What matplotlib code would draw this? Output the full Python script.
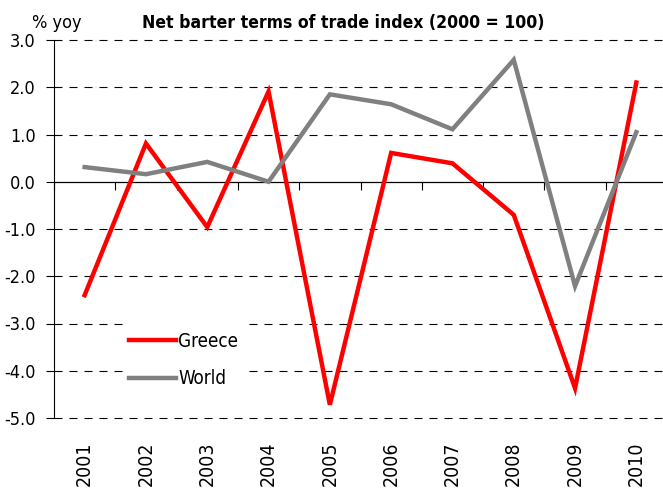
import matplotlib
matplotlib.use("Agg")
import matplotlib.pyplot as plt
from matplotlib import font_manager
from matplotlib.patches import Rectangle
import matplotlib.transforms as mtrans

years = ["2001", "2002", "2003", "2004", "2005", "2006", "2007", "2008", "2009", "2010"]
greece = [-2.40, 0.81, -0.96, 1.91, -4.72, 0.61, 0.39, -0.70, -4.37, 2.10]
world = [0.31, 0.16, 0.42, 0.0, 1.85, 1.64, 1.11, 2.58, -2.21, 1.05]
yticks = [-5.0, -4.0, -3.0, -2.0, -1.0, 0.0, 1.0, 2.0, 3.0]

# look for a condensed / narrow font
narrow = None
narrow_bold = None
for f in font_manager.fontManager.ttflist:
    nm = (f.name + " " + f.fname).lower()
    if ("narrow" in nm or "condensed" in nm) and "italic" not in nm and "oblique" not in nm:
        isbold = (f.weight in ("bold", 700)) or ("bold" in f.fname.lower())
        if isbold:
            narrow_bold = narrow_bold or f.fname
        else:
            narrow = narrow or f.fname

def fp(size, bold=False):
    if bold and narrow_bold:
        return font_manager.FontProperties(fname=narrow_bold, size=size)
    if not bold and narrow:
        return font_manager.FontProperties(fname=narrow, size=size)
    return font_manager.FontProperties(family="Liberation Sans", size=size,
                                       weight="bold" if bold else "normal")

k = 1.0 if narrow else 0.9
tsize = 13 * k
xsize = 14 * k
lsize = 13.5 * k
titsize = 12.6 if narrow_bold else 11.8

W, H = 663, 488
fig = plt.figure(figsize=(W / 100, H / 100), dpi=100)
left, right, top, bottom = 54, 667, 40, 418
ax = fig.add_axes([left / W, 1 - bottom / H, (right - left) / W, (bottom - top) / H])

def px2ax(px, py):
    return ((px - left) / (right - left), (bottom - py) / (bottom - top))

x = list(range(len(years)))
for yv in yticks:
    if yv != 0:
        ax.axhline(yv, color="black", lw=0.8, ls=(0, (7.2, 6.3)), zorder=1, clip_on=False)

# legend background
lx0, ly0 = px2ax(123, 397)
lx1, ly1 = px2ax(247, 319)
ax.add_patch(Rectangle((lx0, ly0), lx1 - lx0, ly1 - ly0, transform=ax.transAxes,
                       facecolor="white", edgecolor="none", zorder=2))

ax.plot(x, greece, color="#FF0000", lw=3.2, label="Greece", zorder=3, solid_joinstyle="miter")
ax.plot(x, world, color="#808080", lw=3.2, label="World", zorder=3, solid_joinstyle="miter")

ax.set_ylim(-5, 3)
ax.set_xlim(-0.5, 9.5)
ax.set_yticks(yticks)
ax.set_yticklabels([f"{v:.1f}" for v in yticks], fontproperties=fp(tsize))
ax.set_xticks([i - 0.5 for i in range(len(years) + 1)])
ax.set_xticklabels([])
ax.tick_params(axis="x", length=6, width=0.8, direction="out", color="black")
ax.tick_params(axis="y", length=6, width=0.8, direction="out", pad=7)
for s in ["top", "right"]:
    ax.spines[s].set_visible(False)
ax.spines["bottom"].set_position(("data", 0))
ax.spines["bottom"].set_linewidth(0.9)
ax.spines["left"].set_linewidth(0.8)
ax.spines["bottom"].set_zorder(2.5)

# category labels at the bottom
trans = mtrans.blended_transform_factory(ax.transData, fig.transFigure)
for i, yr in enumerate(years):
    ax.text(i, 1 - 441 / H, yr, transform=trans, rotation=90, ha="center", va="top",
            fontproperties=fp(xsize), clip_on=False)

ax_anchor = px2ax(129, 332)
leg = ax.legend(loc="upper left", bbox_to_anchor=ax_anchor, frameon=False, prop=fp(lsize),
                handlelength=2.5, handletextpad=0.12, labelspacing=0.98,
                borderpad=0, borderaxespad=0)
leg.set_zorder(4)

fig.text(32 / W, 1 - 28 / H, "% yoy", fontproperties=fp(tsize), va="baseline", ha="left")
fig.text(142 / W, 1 - 28 / H, "Net barter terms of trade index (2000 = 100)",
         fontproperties=fp(titsize, bold=True), va="baseline", ha="left")

fig.savefig("out.png", dpi=100)
